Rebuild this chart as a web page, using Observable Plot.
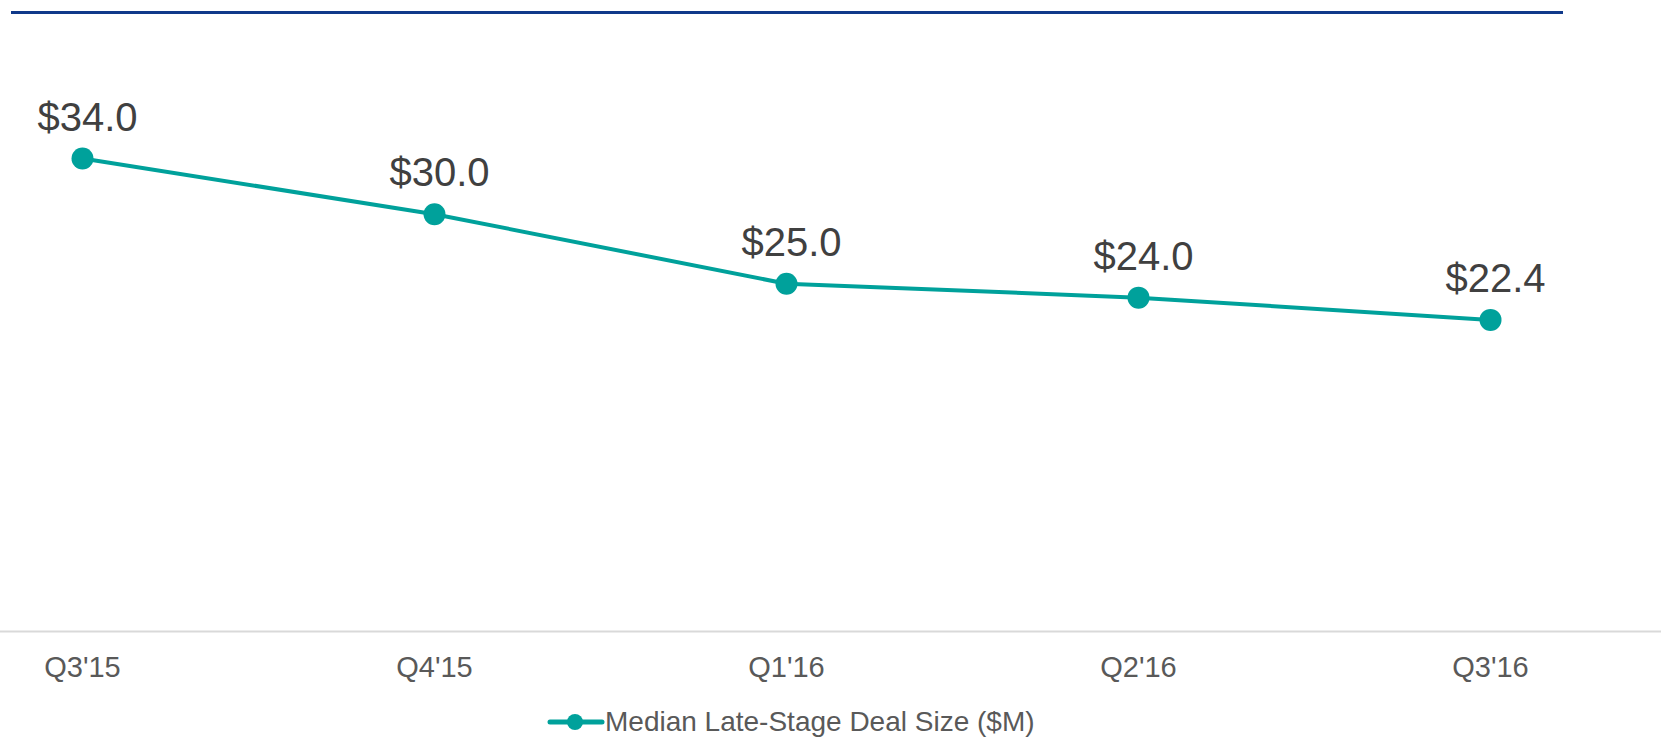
<!DOCTYPE html>
<html>
<head>
<meta charset="utf-8">
<script src="https://cdn.jsdelivr.net/npm/d3@7"></script>
<script src="https://cdn.jsdelivr.net/npm/@observablehq/plot@0.6"></script>
<style>
  html, body { margin: 0; padding: 0; background: #ffffff; }
  body { font-family: "Liberation Sans", Arial, sans-serif; }
  #wrap { position: relative; width: 1661px; height: 738px; overflow: hidden; }
  #topline { position: absolute; left: 11px; top: 11px; width: 1552px; height: 2.5px; background: #10398a; }
  #legend { position: absolute; left: 547px; top: 708px; height: 28px; line-height: 28px; font-size: 28px; color: #595959; white-space: nowrap; display: flex; align-items: center; }
  #legend svg { display: block; }
</style>
</head>
<body>
<div id="wrap">
  <div id="chart"></div>
  <div id="topline"></div>
  <div id="legend"></div>
</div>
<script>
const quarters = ["Q3'15", "Q4'15", "Q1'16", "Q2'16", "Q3'16"];
const dealSize = [34.0, 30.0, 25.0, 24.0, 22.4];
const seriesName = "Median Late-Stage Deal Size ($M)";

const teal = "#00a19b";
const data = quarters.map((q, i) => ({quarter: q, value: dealSize[i]}));

const chart = Plot.plot({
  width: 1661,
  height: 700,
  marginTop: 5,
  marginBottom: 69,
  marginLeft: 0,
  marginRight: 0,
  style: {fontFamily: "'Liberation Sans', Arial, sans-serif", background: "white"},
  x: {type: "point", domain: quarters, range: [81, 1491], padding: 0, label: null},
  y: {domain: [0, 45], axis: null},
  marks: [
    Plot.ruleY([0], {stroke: "#d9d9d9", strokeWidth: 2}),
    Plot.axisX({tickSize: 0, tickPadding: 25, fontSize: 29, color: "#595959", label: null}),
    Plot.line(data, {x: "quarter", y: "value", stroke: teal, strokeWidth: 4}),
    Plot.dot(data, {x: "quarter", y: "value", r: 11, fill: teal}),
    Plot.text(data, {x: "quarter", y: "value", text: d => "$" + d.value.toFixed(1), lineAnchor: "bottom", dy: -28, dx: 5, fontSize: 40, fill: "#404040"})
  ]
});
document.getElementById("chart").appendChild(chart);

const legend = document.getElementById("legend");
const ns = "http://www.w3.org/2000/svg";
const sw = document.createElementNS(ns, "svg");
sw.setAttribute("width", 58);
sw.setAttribute("height", 28);
const ln = document.createElementNS(ns, "line");
ln.setAttribute("x1", 3); ln.setAttribute("x2", 55);
ln.setAttribute("y1", 14); ln.setAttribute("y2", 14);
ln.setAttribute("stroke", teal); ln.setAttribute("stroke-width", 5); ln.setAttribute("stroke-linecap", "round");
const c = document.createElementNS(ns, "circle");
c.setAttribute("cx", 28); c.setAttribute("cy", 14); c.setAttribute("r", 8); c.setAttribute("fill", teal);
sw.appendChild(ln); sw.appendChild(c);
legend.appendChild(sw);
const span = document.createElement("span");
span.textContent = seriesName;
legend.appendChild(span);
</script>
</body>
</html>
